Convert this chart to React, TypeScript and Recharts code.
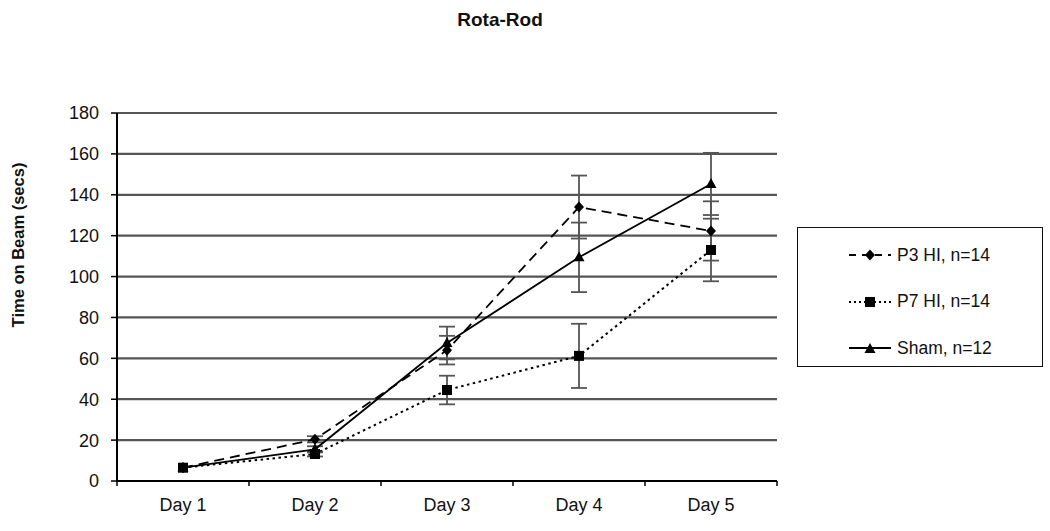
import React from 'react';
import {
    LineChart,
    Line,
    XAxis,
    YAxis,
    CartesianGrid,
    ErrorBar,
    Legend
} from 'recharts';

// values
const days = ['Day 1', 'Day 2', 'Day 3', 'Day 4', 'Day 5'];
const p3Hi = [6.5, 20.4, 64, 134, 122.3];
const p3HiErr = [0, 1.5, 7, 15.4, 14.5];
const p7Hi = [6.5, 13.2, 44.5, 61.2, 113];
const p7HiErr = [0, 1.2, 7, 15.7, 15.3];
const sham = [6.5, 15.5, 67.5, 109.4, 145.3];
const shamErr = [0, 1.5, 8, 17, 15.2];
const yTicks = [0, 20, 40, 60, 80, 100, 120, 140, 160, 180];

const data = days.map((day, i) => ({
    day,
    p3: p3Hi[i],
    p3Err: p3HiErr[i],
    p7: p7Hi[i],
    p7Err: p7HiErr[i],
    sham: sham[i],
    shamErr: shamErr[i],
}));

const FONT = '"Liberation Sans", Arial, sans-serif';
const HALF_BAND = 66;

const Diamond = (props: any) => {
    const { cx, cy } = props;
    if (cx == null || cy == null) return <g key={props.key} />;
    return (
        <path
            key={props.key}
            d={`M${cx},${cy - 5.5}L${cx + 5},${cy}L${cx},${cy + 5.5}L${cx - 5},${cy}Z`}
            fill="#000"
        />
    );
};

const Square = (props: any) => {
    const { cx, cy } = props;
    if (cx == null || cy == null) return <g key={props.key} />;
    return <rect key={props.key} x={cx - 5} y={cy - 5} width={10} height={10} fill="#000" />;
};

const Triangle = (props: any) => {
    const { cx, cy } = props;
    if (cx == null || cy == null) return <g key={props.key} />;
    return (
        <path
            key={props.key}
            d={`M${cx},${cy - 6}L${cx + 5.5},${cy + 4}L${cx - 5.5},${cy + 4}Z`}
            fill="#000"
        />
    );
};

// tick marks sit between the categories, as in the original
const DayTick = ({ x, y, payload, index }: any) => (
    <g>
        <line x1={x - HALF_BAND} x2={x - HALF_BAND} y1={y} y2={y + 5} stroke="#000" strokeWidth={1.5} />
        {index === days.length - 1 && (
            <line x1={x + HALF_BAND} x2={x + HALF_BAND} y1={y} y2={y + 5} stroke="#000" strokeWidth={1.5} />
        )}
        <text x={x} y={y + 30} textAnchor="middle" fontSize={18} fontFamily={FONT} fill="#111">
            {payload.value}
        </text>
    </g>
);

const legendRows = [
    { label: 'P3 HI, n=14', dash: '7 6', marker: 'diamond' },
    { label: 'P7 HI, n=14', dash: '2 3', marker: 'square' },
    { label: 'Sham, n=12', dash: undefined, marker: 'triangle' },
];

const LegendBox = () => (
    <div
        style={{
            position: 'relative',
            width: 246,
            height: 140,
            border: '1.5px solid #111',
            boxSizing: 'border-box',
            background: '#fff',
            fontFamily: FONT,
        }}
    >
        {legendRows.map((row, i) => (
            <div key={row.label} style={{ position: 'absolute', left: 51, top: 16 + i * 46.5, height: 22, display: 'flex', alignItems: 'center' }}>
                <svg width={42} height={14}>
                    <line x1={0} x2={42} y1={7} y2={7} stroke="#000" strokeWidth={1.8} strokeDasharray={row.dash} />
                    {row.marker === 'diamond' && <Diamond cx={21} cy={7} />}
                    {row.marker === 'square' && <Square cx={21} cy={7} />}
                    {row.marker === 'triangle' && <Triangle cx={21} cy={8} />}
                </svg>
                <span style={{ marginLeft: 6, fontSize: 17.5, color: '#111' }}>{row.label}</span>
            </div>
        ))}
    </div>
);

const App = () => {
    return (
        <div style={{ position: 'absolute', left: 0, top: 0, width: 1050, height: 531, background: '#fff' }}>
            <div
                style={{
                    position: 'absolute',
                    left: 0,
                    width: 1000,
                    top: 9,
                    textAlign: 'center',
                    fontFamily: FONT,
                    fontWeight: 'bold',
                    fontSize: 19,
                    color: '#111',
                }}
            >
                Rota-Rod
            </div>
            <div
                style={{
                    position: 'absolute',
                    left: 18,
                    top: 245,
                    transform: 'translate(-50%, -50%) rotate(-90deg)',
                    whiteSpace: 'nowrap',
                    fontFamily: FONT,
                    fontWeight: 'bold',
                    fontSize: 16.5,
                    color: '#111',
                }}
            >
                Time on Beam (secs)
            </div>
            <LineChart
                width={1050}
                height={531}
                data={data}
                margin={{ top: 113, right: 273, bottom: 20, left: 57 }}
                style={{ position: 'absolute', left: 0, top: 0 }}
            >
                <CartesianGrid vertical={false} stroke="#555" strokeWidth={2.2} />
                <XAxis
                    dataKey="day"
                    height={30}
                    padding={{ left: HALF_BAND, right: HALF_BAND }}
                    tickLine={false}
                    tickSize={0}
                    tickMargin={0}
                    axisLine={{ stroke: '#000', strokeWidth: 2 }}
                    tick={<DayTick />}
                    interval={0}
                />
                <YAxis
                    width={60}
                    domain={[0, 180]}
                    ticks={yTicks}
                    interval={0}
                    tickSize={6}
                    tickMargin={12}
                    axisLine={{ stroke: '#000', strokeWidth: 2 }}
                    tickLine={{ stroke: '#000', strokeWidth: 1.5 }}
                    tick={{ fontSize: 18, fontFamily: FONT, fill: '#111' }}
                />
                <Legend
                    layout="horizontal"
                    align="center"
                    verticalAlign="middle"
                    content={<LegendBox />}
                    wrapperStyle={{ left: 797, top: 227, width: 246, height: 140 }}
                />
                <Line
                    dataKey="p3"
                    name="P3 HI, n=14"
                    stroke="#000"
                    strokeWidth={1.8}
                    strokeDasharray="10 6"
                    dot={<Diamond />}
                    activeDot={false}
                    isAnimationActive={false}
                >
                    <ErrorBar dataKey="p3Err" width={8} stroke="#555" strokeWidth={1.8} direction="y" />
                </Line>
                <Line
                    dataKey="p7"
                    name="P7 HI, n=14"
                    stroke="#000"
                    strokeWidth={2}
                    strokeDasharray="2.5 3.5"
                    dot={<Square />}
                    activeDot={false}
                    isAnimationActive={false}
                >
                    <ErrorBar dataKey="p7Err" width={8} stroke="#555" strokeWidth={1.8} direction="y" />
                </Line>
                <Line
                    dataKey="sham"
                    name="Sham, n=12"
                    stroke="#000"
                    strokeWidth={1.8}
                    dot={<Triangle />}
                    activeDot={false}
                    isAnimationActive={false}
                >
                    <ErrorBar dataKey="shamErr" width={8} stroke="#555" strokeWidth={1.8} direction="y" />
                </Line>
            </LineChart>
        </div>
    );
};

export default App;
